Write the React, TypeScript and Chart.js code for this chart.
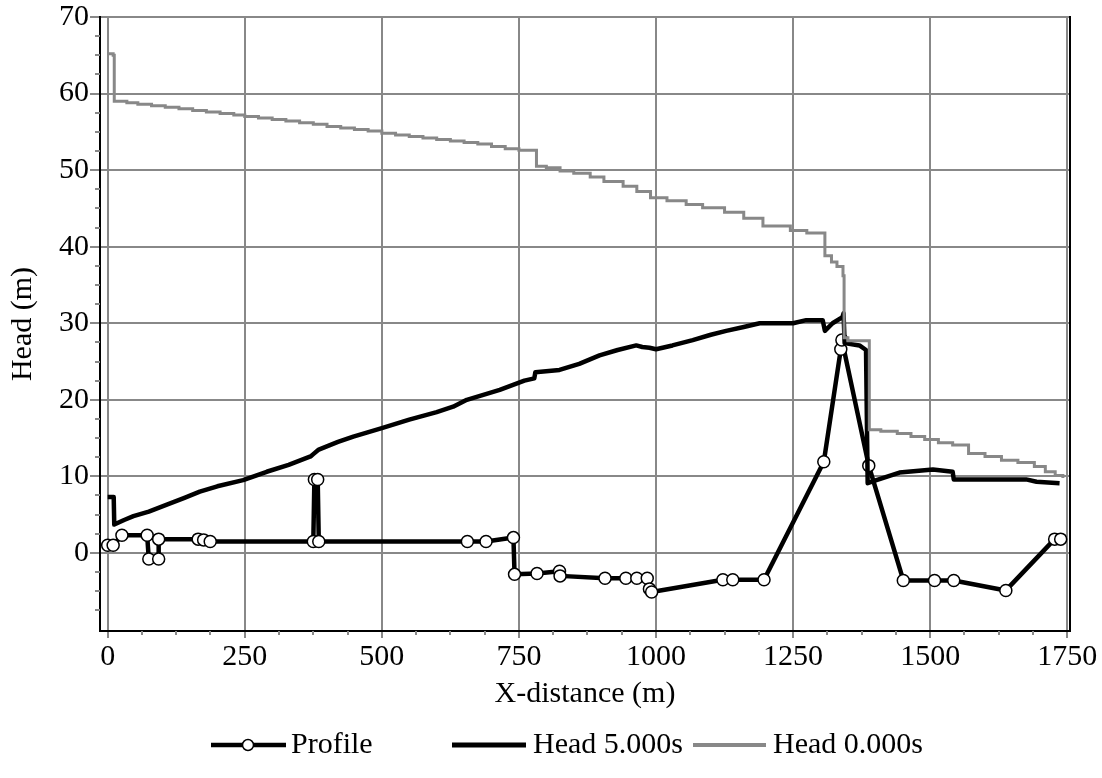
import React, { useEffect, useRef } from "react";
import { Chart, registerables } from "chart.js";

Chart.register(...registerables);

// ---- Data ----
const profileX = [0, 10, 26, 72, 75, 93, 93, 165, 175, 187, 375, 377, 383, 385, 656, 690, 740, 742, 783, 824, 825, 907, 945, 965, 984, 988, 992, 1122, 1140, 1197, 1306, 1337, 1339, 1388, 1451, 1508, 1543, 1638, 1727, 1738];
const profileY = [1.0, 1.0, 2.3, 2.3, -0.8, -0.8, 1.8, 1.8, 1.7, 1.5, 1.5, 9.6, 9.6, 1.5, 1.5, 1.5, 2.0, -2.8, -2.7, -2.4, -3.0, -3.3, -3.3, -3.3, -3.3, -4.7, -5.1, -3.5, -3.5, -3.5, 11.9, 26.6, 27.8, 11.4, -3.6, -3.6, -3.6, -4.9, 1.8, 1.8];

const head5X = [0, 11, 12, 30, 47, 75, 108, 140, 168, 200, 247, 290, 330, 370, 375, 385, 420, 448, 500, 550, 600, 630, 655, 715, 760, 778, 780, 824, 860, 897, 930, 964, 975, 988, 1000, 1030, 1067, 1100, 1128, 1160, 1189, 1220, 1250, 1274, 1304, 1308, 1322, 1340, 1342, 1344, 1371, 1383, 1386, 1402, 1444, 1505, 1541, 1543, 1675, 1694, 1736];
const head5Y = [7.3, 7.3, 3.7, 4.3, 4.8, 5.4, 6.3, 7.2, 8.0, 8.7, 9.5, 10.6, 11.5, 12.6, 12.9, 13.5, 14.5, 15.2, 16.3, 17.4, 18.4, 19.1, 20.0, 21.3, 22.5, 22.8, 23.6, 23.9, 24.7, 25.8, 26.5, 27.1, 26.9, 26.8, 26.6, 27.1, 27.8, 28.5, 29.0, 29.5, 30.0, 30.0, 30.0, 30.4, 30.4, 29.0, 30.0, 30.8, 31.3, 27.4, 27.1, 26.5, 9.1, 9.5, 10.5, 10.9, 10.6, 9.6, 9.6, 9.3, 9.1];

const head0X = [0, 10, 12, 35, 55, 80, 105, 130, 155, 180, 205, 230, 250, 275, 300, 325, 350, 375, 400, 425, 450, 475, 500, 525, 550, 575, 600, 625, 650, 675, 700, 725, 750, 782, 800, 825, 850, 880, 905, 940, 965, 990, 1020, 1055, 1085, 1125, 1160, 1195, 1245, 1275, 1308, 1320, 1330, 1341, 1343, 1350, 1389, 1410, 1440, 1465, 1490, 1515, 1541, 1570, 1600, 1630, 1660, 1690, 1710, 1728, 1742];
const head0Y = [65.2, 65.0, 59.0, 58.8, 58.6, 58.4, 58.2, 58.0, 57.8, 57.6, 57.4, 57.2, 57.0, 56.8, 56.6, 56.4, 56.2, 56.0, 55.7, 55.5, 55.3, 55.1, 54.8, 54.6, 54.4, 54.2, 54.0, 53.8, 53.6, 53.4, 53.1, 52.8, 52.6, 50.5, 50.3, 49.9, 49.6, 49.1, 48.5, 47.9, 47.2, 46.4, 46.0, 45.5, 45.1, 44.5, 43.7, 42.7, 42.1, 41.8, 38.8, 38.0, 37.4, 36.2, 28.1, 27.7, 16.1, 15.9, 15.6, 15.2, 14.8, 14.4, 14.1, 13.0, 12.6, 12.1, 11.8, 11.3, 10.6, 10.1, 9.8, 9.5];

const xTicks = [0, 250, 500, 750, 1000, 1250, 1500, 1750];
const yTicks = [0, 10, 20, 30, 40, 50, 60, 70];
const xMinorTicks = [62.5, 125, 187.5, 312.5, 375, 437.5, 562.5, 625, 687.5, 812.5, 875, 937.5, 1062.5, 1125, 1187.5, 1312.5, 1375, 1437.5, 1562.5, 1625, 1687.5];
const yMinorTicks = [-7.5, -5, -2.5, 2.5, 5, 7.5, 12.5, 15, 17.5, 22.5, 25, 27.5, 32.5, 35, 37.5, 42.5, 45, 47.5, 52.5, 55, 57.5, 62.5, 65, 67.5];
const seriesNames = ["Profile", "Head 5.000s", "Head 0.000s"];
const xTitle = "X-distance (m)";
const yTitle = "Head (m)";

const FONT = "'Liberation Serif', 'Times New Roman', serif";
const GRID = "#888888";

const toPts = (xs: number[], ys: number[]) => xs.map((x, i) => ({ x, y: ys[i] }));

const decorPlugin = {
  id: "decor",
  afterDraw(chart: any) {
    const ctx = chart.ctx as CanvasRenderingContext2D;
    const xs = chart.scales.x;
    const ys = chart.scales.y;
    const a = chart.chartArea;
    ctx.save();
    // minor ticks
    ctx.strokeStyle = GRID;
    ctx.lineWidth = 2;
    yMinorTicks.forEach((v) => {
      const p = Math.round(ys.getPixelForValue(v));
      ctx.beginPath();
      ctx.moveTo(a.left - 5, p);
      ctx.lineTo(a.left, p);
      ctx.stroke();
    });
    xMinorTicks.forEach((v) => {
      const p = Math.round(xs.getPixelForValue(v));
      ctx.beginPath();
      ctx.moveTo(p, a.bottom);
      ctx.lineTo(p, a.bottom + 4);
      ctx.stroke();
    });
    // right border
    ctx.strokeStyle = "#000";
    ctx.lineWidth = 2;
    ctx.beginPath();
    ctx.moveTo(a.right, a.top - 1);
    ctx.lineTo(a.right, a.bottom + 1);
    ctx.stroke();

    // legend
    const ly = 745;
    ctx.font = `30px ${FONT}`;
    ctx.textBaseline = "middle";
    ctx.textAlign = "left";
    ctx.fillStyle = "#000";
    // Profile
    ctx.strokeStyle = "#000";
    ctx.lineWidth = 4.5;
    ctx.beginPath();
    ctx.moveTo(211, ly);
    ctx.lineTo(286, ly);
    ctx.stroke();
    ctx.beginPath();
    ctx.arc(248, ly, 5.5, 0, Math.PI * 2);
    ctx.fillStyle = "#fff";
    ctx.fill();
    ctx.lineWidth = 1.5;
    ctx.stroke();
    ctx.fillStyle = "#000";
    ctx.fillText(seriesNames[0], 291, ly);
    // Head 5
    ctx.lineWidth = 5;
    ctx.beginPath();
    ctx.moveTo(452, ly);
    ctx.lineTo(526, ly);
    ctx.stroke();
    ctx.fillText(seriesNames[1], 533, ly);
    // Head 0
    ctx.strokeStyle = GRID;
    ctx.lineWidth = 4;
    ctx.beginPath();
    ctx.moveTo(693, ly);
    ctx.lineTo(766, ly);
    ctx.stroke();
    ctx.fillText(seriesNames[2], 773, ly);
    ctx.restore();
  },
};

export default function App() {
  const ref = useRef<HTMLCanvasElement | null>(null);
  useEffect(() => {
    if (!ref.current) return;
    const chart = new Chart(ref.current, {
      type: "line",
      data: {
        datasets: [
          {
            label: seriesNames[0],
            data: toPts(profileX, profileY),
            borderColor: "#000",
            borderWidth: 4.5,
            borderJoinStyle: "round",
            pointRadius: 6,
            pointBackgroundColor: "#fff",
            pointBorderColor: "#000",
            pointBorderWidth: 1.5,
            tension: 0,
            order: 3,
          },
          {
            label: seriesNames[1],
            data: toPts(head5X, head5Y),
            borderColor: "#000",
            borderWidth: 4.5,
            borderJoinStyle: "round",
            pointRadius: 0,
            tension: 0,
            order: 2,
          },
          {
            label: seriesNames[2],
            data: toPts(head0X, head0Y),
            borderColor: GRID,
            borderWidth: 3,
            pointRadius: 0,
            stepped: "before",
            tension: 0,
            order: 1,
          },
        ],
      },
      options: {
        animation: false,
        responsive: false,
        devicePixelRatio: 1,
        layout: { padding: { left: 0, right: 32, top: 17, bottom: 0 } },
        plugins: { legend: { display: false }, tooltip: { enabled: false } },
        scales: {
          x: {
            type: "linear",
            min: -14,
            max: 1755,
            afterFit: (s: any) => {
              s.height = 147;
            },
            afterBuildTicks: (s: any) => {
              s.ticks = xTicks.map((v) => ({ value: v }));
            },
            ticks: {
              font: { family: FONT, size: 30 },
              color: "#000",
              padding: 1,
              maxRotation: 0,
              autoSkip: false,
              callback: (v: any) => String(v),
            },
            grid: { color: GRID, lineWidth: 2, tickLength: 7, drawTicks: true },
            border: { display: true, color: "#000", width: 2 },
            title: {
              display: true,
              text: xTitle,
              font: { family: FONT, size: 30 },
              color: "#000",
              padding: { top: 0, bottom: 66 },
            },
          },
          y: {
            type: "linear",
            min: -10.2,
            max: 70,
            afterFit: (s: any) => {
              s.width = 100;
            },
            afterBuildTicks: (s: any) => {
              s.ticks = yTicks.map((v) => ({ value: v }));
            },
            ticks: {
              font: { family: FONT, size: 30, lineHeight: 1 },
              color: "#000",
              padding: 1,
              autoSkip: false,
              callback: (v: any) => String(v),
            },
            grid: { color: GRID, lineWidth: 2, tickLength: 10, drawTicks: true },
            border: { display: true, color: "#000", width: 2 },
            title: {
              display: true,
              text: yTitle,
              font: { family: FONT, size: 30 },
              color: "#000",
              padding: { top: 5, bottom: 0 },
            },
          },
        },
      },
      plugins: [decorPlugin],
    });
    return () => chart.destroy();
  }, []);
  return (
    <div style={{ position: "fixed", left: 0, top: 0, width: 1102, height: 778, background: "#fff" }}>
      <canvas ref={ref} width={1102} height={778} />
    </div>
  );
}
